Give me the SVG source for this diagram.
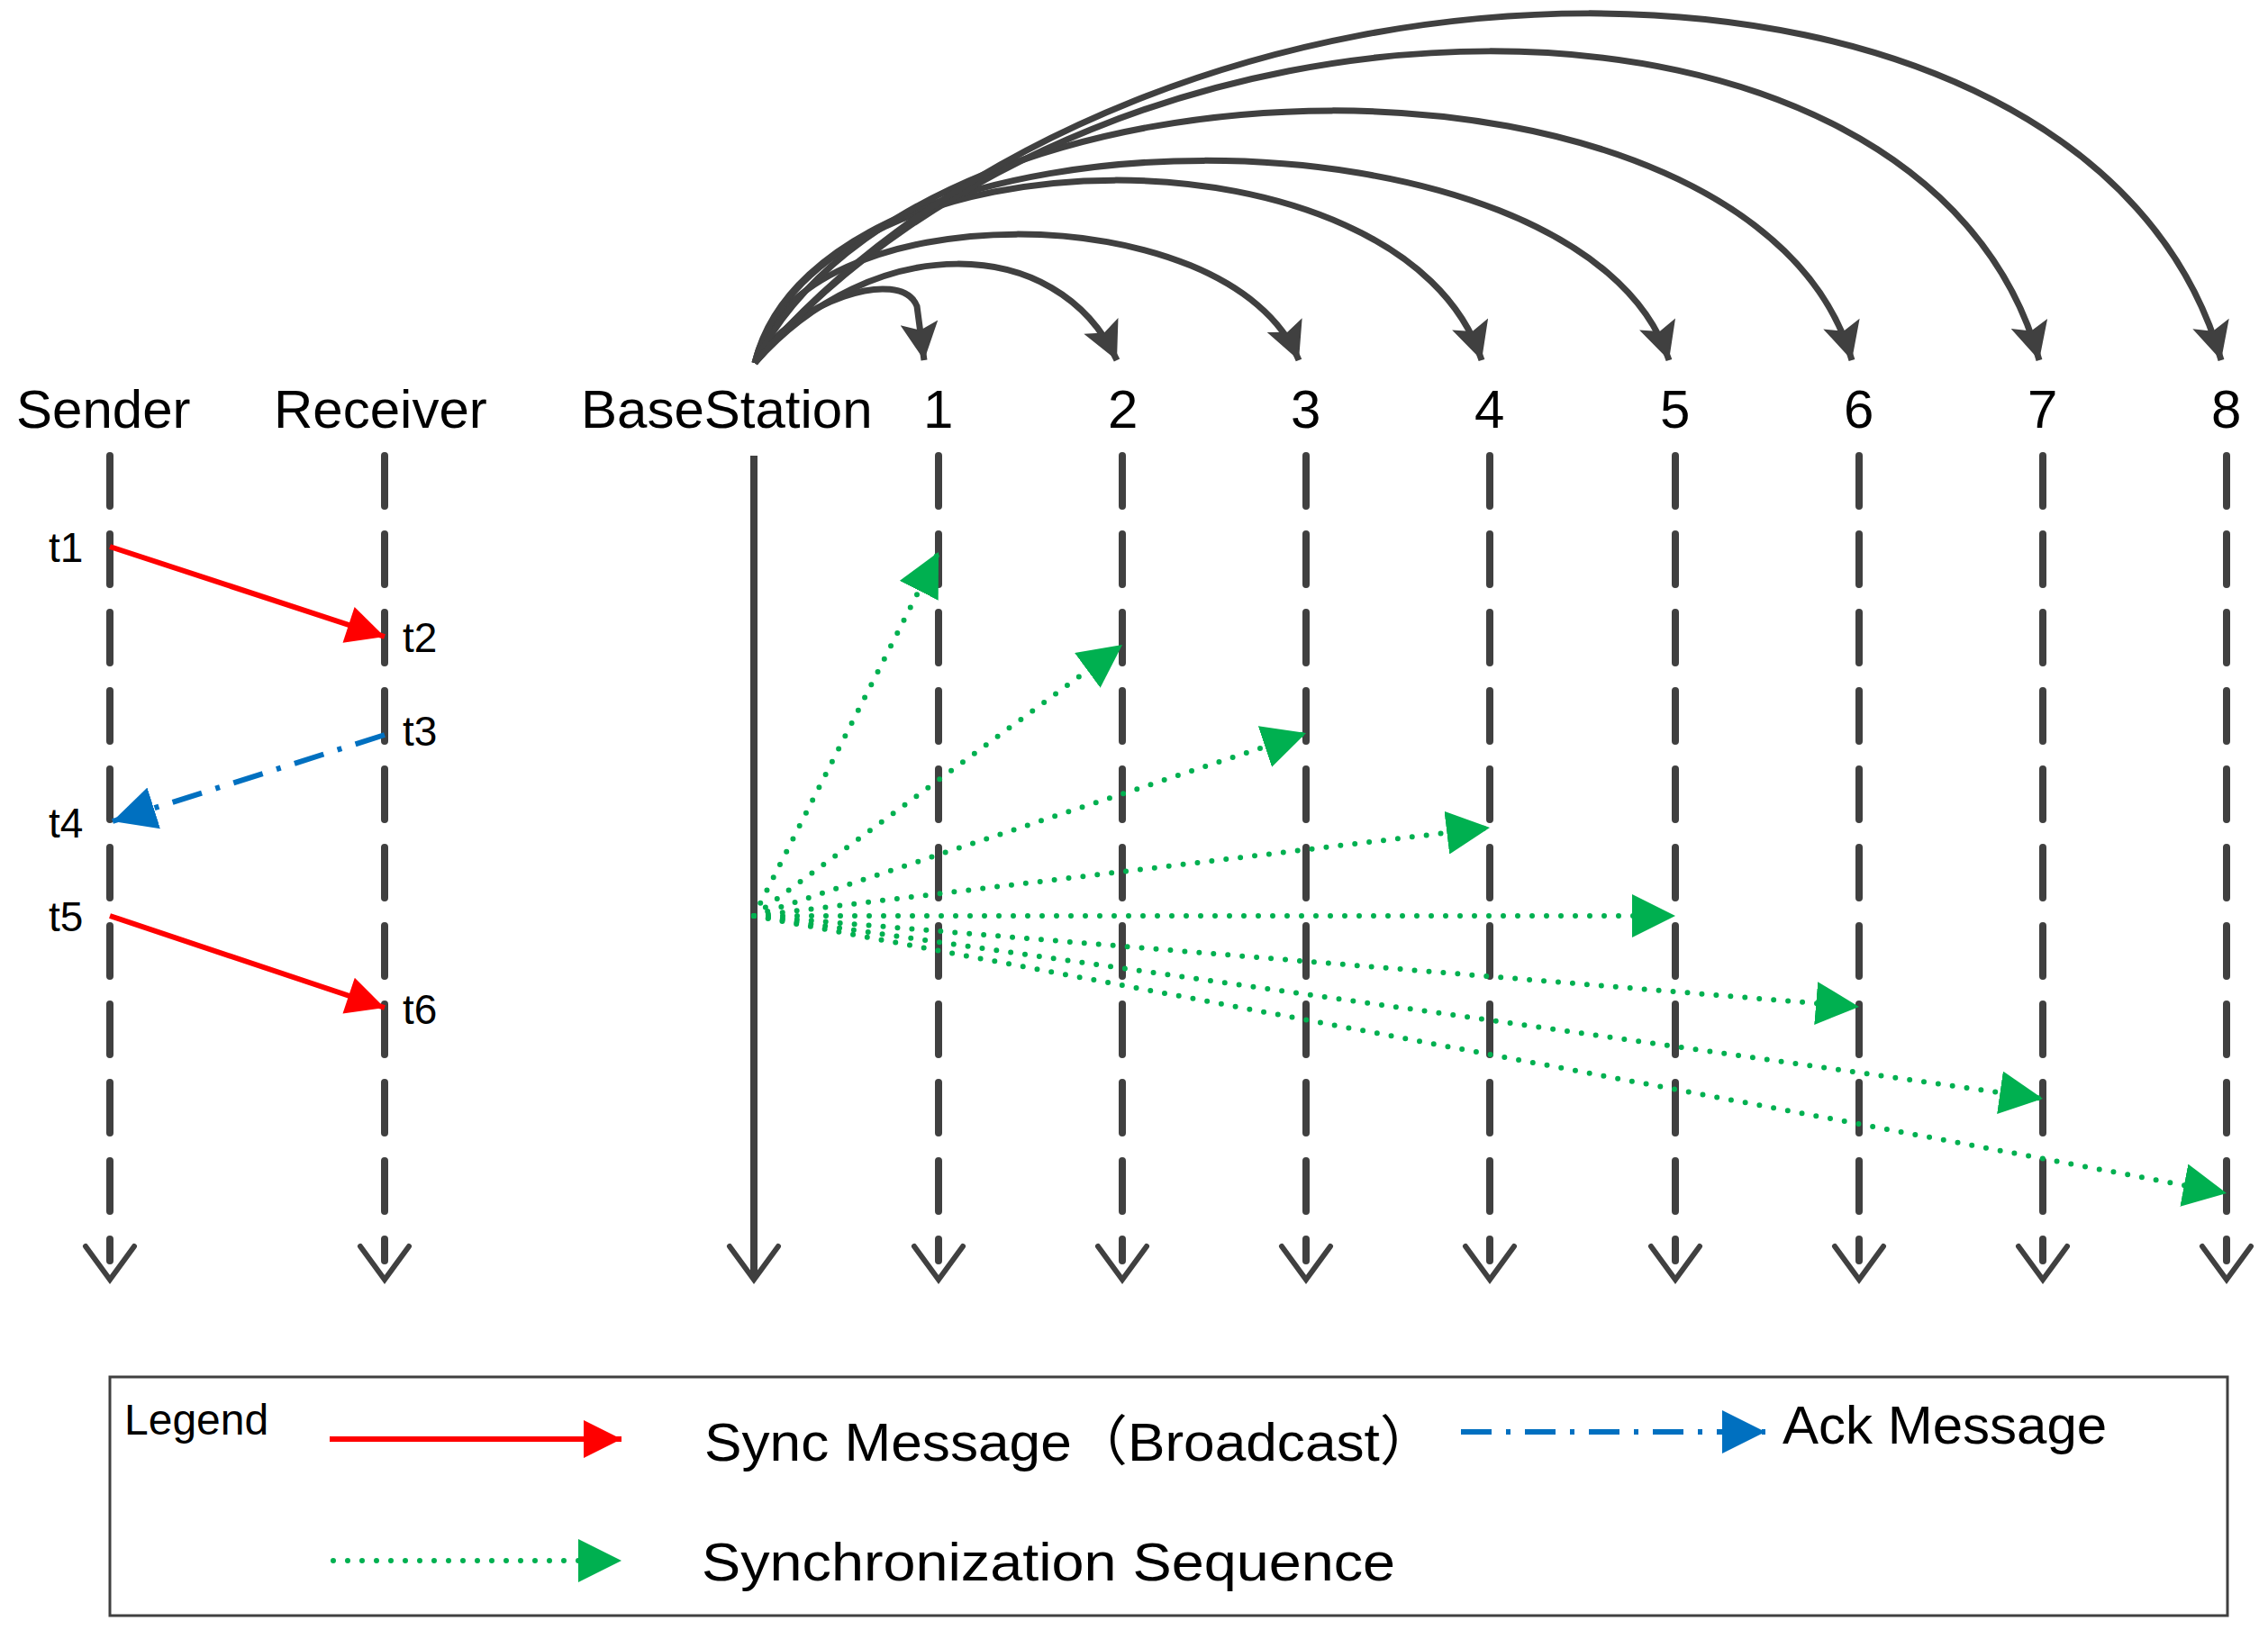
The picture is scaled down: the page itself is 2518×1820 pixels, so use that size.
<svg xmlns="http://www.w3.org/2000/svg" width="2518" height="1820" viewBox="0 0 2518 1820">
<style>
text{font-family:"Liberation Sans","Noto Sans CJK SC",sans-serif;fill:#000}
.lbl{font-size:60px}
.t{font-size:46px}
.life{stroke:#404040;stroke-width:8;stroke-dasharray:56 31;stroke-linecap:round;fill:none}
.solid{stroke:#404040;stroke-width:8;fill:none}
.open{stroke:#404040;stroke-width:6;fill:none;stroke-linecap:round}
.red{stroke:#FF0000;stroke-width:6;fill:none;marker-end:url(#mr)}
.blue{stroke:#0070C0;stroke-width:6;fill:none;stroke-dasharray:34 16 5 16;marker-end:url(#mb)}
.green{stroke:#00B050;stroke-width:6;fill:none;stroke-dasharray:0 16;stroke-linecap:round;marker-end:url(#mg)}
.arc{stroke:#404040;stroke-width:7;fill:none;marker-end:url(#mk)}
</style>
<defs>
<marker id="mr" viewBox="0 0 10 10" refX="10" refY="5" markerWidth="8" markerHeight="7" markerUnits="strokeWidth" orient="auto"><path d="M0 0L10 5L0 10z" fill="#FF0000"/></marker>
<marker id="mb" viewBox="0 0 10 10" refX="10" refY="5" markerWidth="8" markerHeight="8" markerUnits="strokeWidth" orient="auto"><path d="M0 0L10 5L0 10z" fill="#0070C0"/></marker>
<marker id="mg" viewBox="0 0 10 10" refX="10" refY="5" markerWidth="8" markerHeight="8" markerUnits="strokeWidth" orient="auto"><path d="M0 0L10 5L0 10z" fill="#00B050"/></marker>
<marker id="mk" viewBox="0 0 10 10" refX="10" refY="5" markerWidth="8" markerHeight="6" markerUnits="strokeWidth" orient="auto"><path d="M0 0L10 5L0 10L2 5z" fill="#404040"/></marker>
</defs>

<g id="labels">
<text class="lbl" x="18" y="475">Sender</text>
<text class="lbl" x="304" y="475">Receiver</text>
<text class="lbl" x="645" y="475">BaseStation</text>
<text class="lbl" x="1025" y="475">1</text>
<text class="lbl" x="1230" y="475">2</text>
<text class="lbl" x="1433" y="475">3</text>
<text class="lbl" x="1637" y="475">4</text>
<text class="lbl" x="1843" y="475">5</text>
<text class="lbl" x="2047" y="475">6</text>
<text class="lbl" x="2251" y="475">7</text>
<text class="lbl" x="2455" y="475">8</text>
</g>

<g id="lifelines">
<g id="sender"><line class="life" x1="122" y1="506" x2="122" y2="1400"/><path class="open" d="M95 1384L122 1421L149 1384"/></g>
<g id="receiver"><line class="life" x1="427" y1="506" x2="427" y2="1400"/><path class="open" d="M400 1384L427 1421L454 1384"/></g>
<g id="basestation"><line class="solid" x1="837" y1="506" x2="837" y2="1418"/><path class="open" d="M810 1384L837 1421L864 1384"/></g>
<g id="node1"><line class="life" x1="1042" y1="506" x2="1042" y2="1400"/><path class="open" d="M1015 1384L1042 1421L1069 1384"/></g>
<g id="node2"><line class="life" x1="1246" y1="506" x2="1246" y2="1400"/><path class="open" d="M1219 1384L1246 1421L1273 1384"/></g>
<g id="node3"><line class="life" x1="1450" y1="506" x2="1450" y2="1400"/><path class="open" d="M1423 1384L1450 1421L1477 1384"/></g>
<g id="node4"><line class="life" x1="1654" y1="506" x2="1654" y2="1400"/><path class="open" d="M1627 1384L1654 1421L1681 1384"/></g>
<g id="node5"><line class="life" x1="1860" y1="506" x2="1860" y2="1400"/><path class="open" d="M1833 1384L1860 1421L1887 1384"/></g>
<g id="node6"><line class="life" x1="2064" y1="506" x2="2064" y2="1400"/><path class="open" d="M2037 1384L2064 1421L2091 1384"/></g>
<g id="node7"><line class="life" x1="2268" y1="506" x2="2268" y2="1400"/><path class="open" d="M2241 1384L2268 1421L2295 1384"/></g>
<g id="node8"><line class="life" x1="2472" y1="506" x2="2472" y2="1400"/><path class="open" d="M2445 1384L2472 1421L2499 1384"/></g>
</g>

<g id="times">
<text class="t" x="54" y="624">t1</text>
<text class="t" x="447" y="724">t2</text>
<text class="t" x="447" y="828">t3</text>
<text class="t" x="54" y="930">t4</text>
<text class="t" x="54" y="1034">t5</text>
<text class="t" x="447" y="1137">t6</text>
</g>

<g id="connectors">
<line class="red" x1="122" y1="607" x2="427" y2="707"/>
<line class="blue" x1="427" y1="816" x2="125" y2="912"/>
<line class="red" x1="122" y1="1017" x2="427" y2="1119"/>
<line class="green" x1="837" y1="1017" x2="1042" y2="613"/>
<line class="green" x1="837" y1="1017" x2="1246" y2="716"/>
<line class="green" x1="837" y1="1017" x2="1450" y2="814"/>
<line class="green" x1="837" y1="1017" x2="1654" y2="919"/>
<line class="green" x1="837" y1="1017" x2="1860" y2="1017"/>
<line class="green" x1="837" y1="1017" x2="2064" y2="1118"/>
<line class="green" x1="837" y1="1017" x2="2268" y2="1220"/>
<line class="green" x1="837" y1="1017" x2="2472" y2="1325"/>
<path class="arc" d="M838 403C880 335 1000 295 1018 340L1026 400"/>
<path class="arc" d="M838 403C967 257 1174 257 1240 400"/>
<path class="arc" d="M838 403C883 213 1366 213 1442 400"/>
<path class="arc" d="M838 403C913 133 1559 133 1645 400"/>
<path class="arc" d="M838 403C910 104 1757 104 1853 400"/>
<path class="arc" d="M838 403C1028 30 1950 30 2056 400"/>
<path class="arc" d="M838 403C1237 -58 2138 -58 2264 400"/>
<path class="arc" d="M838 403C1281 -114 2320 -114 2466 400"/>
</g>

<g id="legend">
<rect x="122" y="1529" width="2351" height="265" fill="none" stroke="#404040" stroke-width="3"/>
<text x="138" y="1593" style="font-size:48px">Legend</text>
<line class="red" x1="366" y1="1598" x2="690" y2="1598"/>
<text class="lbl" x="782" y="1622" textLength="812" lengthAdjust="spacingAndGlyphs">Sync Message（Broadcast）</text>
<line class="blue" x1="1622" y1="1590" x2="1960" y2="1590"/>
<text class="lbl" x="1979" y="1603">Ack Message</text>
<line class="green" x1="370" y1="1733" x2="690" y2="1733"/>
<text class="lbl" x="779" y="1755" textLength="770" lengthAdjust="spacingAndGlyphs">Synchronization Sequence</text>
</g>
</svg>
